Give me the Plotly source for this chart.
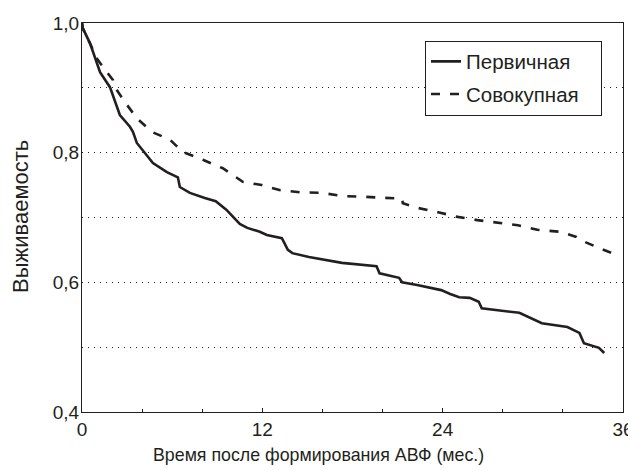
import plotly.graph_objects as go

# Data (months, survival)
primary_x = [0, 0.05, 0.53, 0.86, 1.2, 1.86, 2.19, 2.52, 3.19, 3.39, 3.65, 4.32, 4.72, 5.65, 6.38, 6.51,
             7.18, 8.17, 8.9, 9.6, 10.5, 11.0, 11.83, 12.3, 13.3, 13.7, 14.0, 15.1, 16.3, 17.3, 19.6, 19.8,
             21.1, 21.3, 22.3, 23.9, 24.5, 25.1, 25.8, 26.4, 26.6, 29.1, 30.6, 32.3, 33.1, 33.4, 34.4, 34.75]
primary_y = [1.0, 0.992, 0.969, 0.946, 0.924, 0.901, 0.881, 0.858, 0.840, 0.832, 0.815, 0.796, 0.784, 0.770,
             0.762, 0.747, 0.738, 0.730, 0.725, 0.712, 0.690, 0.684, 0.678, 0.673, 0.668, 0.650, 0.645, 0.639,
             0.634, 0.630, 0.625, 0.614, 0.607, 0.600, 0.596, 0.588, 0.582, 0.577, 0.576, 0.570, 0.560, 0.553,
             0.537, 0.531, 0.522, 0.506, 0.499, 0.491]

total_x = [0, 0.05, 0.5, 1.0, 1.31, 2.06, 2.19, 2.86, 3.65, 4.65, 5.85, 6.71, 8.04, 9.37, 10.7, 11.96, 13.2,
           14.5, 16.0, 17.3, 18.7, 20.0, 21.3, 21.35, 22.3, 23.7, 25.0, 26.3, 27.6, 29.0, 30.3, 31.8, 32.9,
           33.3, 34.6, 35.6]
total_y = [1.0, 0.992, 0.97, 0.945, 0.935, 0.912, 0.901, 0.878, 0.853, 0.832, 0.820, 0.801, 0.789, 0.776,
           0.755, 0.750, 0.742, 0.739, 0.738, 0.733, 0.732, 0.730, 0.729, 0.722, 0.715, 0.708, 0.701, 0.696,
           0.692, 0.688, 0.681, 0.678, 0.670, 0.664, 0.651, 0.642]

x_ticks = [0, 12, 24, 36]
y_ticks = [0.4, 0.6, 0.8, 1.0]
y_tick_labels = ["0,4", "0,6", "0,8", "1,0"]

INK = "#231f20"
FAM = "Liberation Sans, Arial, sans-serif"
PAD = "\u00a0\u00a0\u00a0"  # right padding inside the legend box

fig = go.Figure()
fig.add_trace(go.Scatter(x=primary_x, y=primary_y, mode="lines", name="Первичная" + PAD,
                         legendgroup="a", line=dict(color=INK, width=2.6)))
fig.add_trace(go.Scatter(x=total_x, y=total_y, mode="lines", name="Совокупная" + PAD,
                         legendgroup="b", line=dict(color=INK, width=2.6, dash="9px,10px")))

tick_font = dict(family=FAM, size=19, color=INK)

# page body has an 8px margin, so the figure is 8px smaller and margins shifted by 8px
fig.update_layout(
    width=628, height=462,
    margin=dict(l=74, r=13, t=15, b=58),
    paper_bgcolor="white", plot_bgcolor="white",
    font=dict(family=FAM, size=17, color=INK),
    showlegend=True,
    legend=dict(x=0.634, y=0.955, xanchor="left", yanchor="top",
                bordercolor=INK, borderwidth=1, bgcolor="white",
                font=dict(family=FAM, size=20.5, color=INK),
                itemwidth=30, tracegroupgap=3),
    xaxis=dict(range=[0, 36], tickvals=x_ticks, ticktext=[str(v) for v in x_ticks],
               showgrid=False, zeroline=False, showline=True, linecolor=INK, linewidth=1,
               mirror=True, ticks="inside", ticklen=4, tickcolor=INK, automargin=False,
               minor=dict(dtick=4, tick0=0, ticks="inside", ticklen=3, tickcolor=INK),
               tickfont=tick_font),
    yaxis=dict(range=[0.4, 1.0], tickvals=y_ticks, ticktext=y_tick_labels,
               showgrid=True, gridcolor=INK, griddash="1px,5px", gridwidth=1,
               zeroline=False, showline=True, linecolor=INK, linewidth=1, mirror=True,
               ticks="", automargin=False, ticklabelstandoff=-2,
               minor=dict(dtick=0.1, tick0=0.4, showgrid=True, gridcolor=INK,
                          griddash="1px,5px", gridwidth=1),
               tickfont=tick_font),
    annotations=[
        dict(text="Время после формирования АВФ (мес.)", xref="paper", yref="paper",
             x=(318 - 82) / 541, y=-(455 - 412) / 389, xanchor="center", yanchor="middle",
             showarrow=False, font=dict(family=FAM, size=17.8, color=INK)),
        dict(text="Выживаемость", xref="paper", yref="paper",
             x=-(82 - 20) / 541, y=(412 - 217) / 389, xanchor="center", yanchor="middle",
             textangle=-90, showarrow=False, font=dict(family=FAM, size=22, color=INK)),
    ],
)

fig.write_html("out.html")
